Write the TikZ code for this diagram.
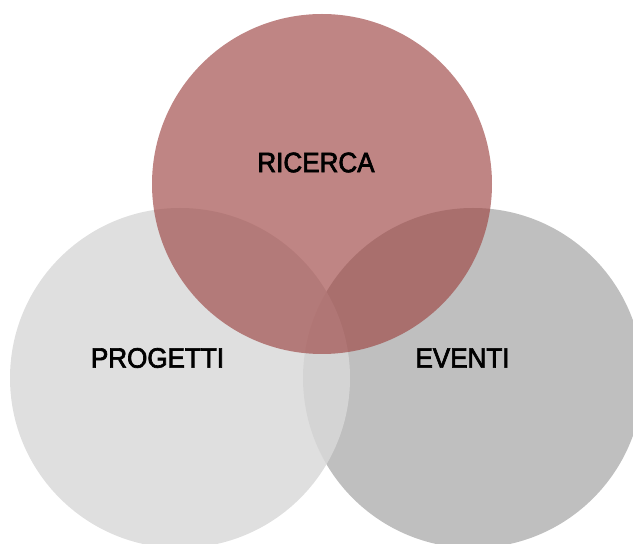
\documentclass[tikz,border=0pt]{standalone}
\usepackage{fontspec}
\setmainfont{Liberation Sans}
\newfontfamily\etichettafont[FakeStretch=0.93,FakeBold=2.5]{Liberation Sans}
\usepackage{tikz}

\definecolor{rosso}{RGB}{158,70,68}
\definecolor{grigiochiaro}{RGB}{217,217,217}
\definecolor{grigioscuro}{RGB}{191,191,191}

\begin{document}
\begin{tikzpicture}[x=1pt,y=1pt,
    etichetta/.style={font=\etichettafont\fontsize{28}{32}\selectfont, text=black, inner sep=0pt}]
    \useasboundingbox (0,0) rectangle (633,544);
    \clip (0,0) rectangle (633,544);
    \fill[grigioscuro] (473,166) circle (170pt);
    \fill[grigiochiaro, fill opacity=0.84] (180,166) circle (170pt);
    \fill[rosso, fill opacity=0.66] (322,360) circle (170pt);
    \node[etichetta] (ricerca) at (316,381.5) {RICERCA};
    \node[etichetta] (progetti) at (157.5,186) {PROGETTI};
    \node[etichetta] (eventi) at (462.5,186) {EVENTI};
\end{tikzpicture}
\end{document}
